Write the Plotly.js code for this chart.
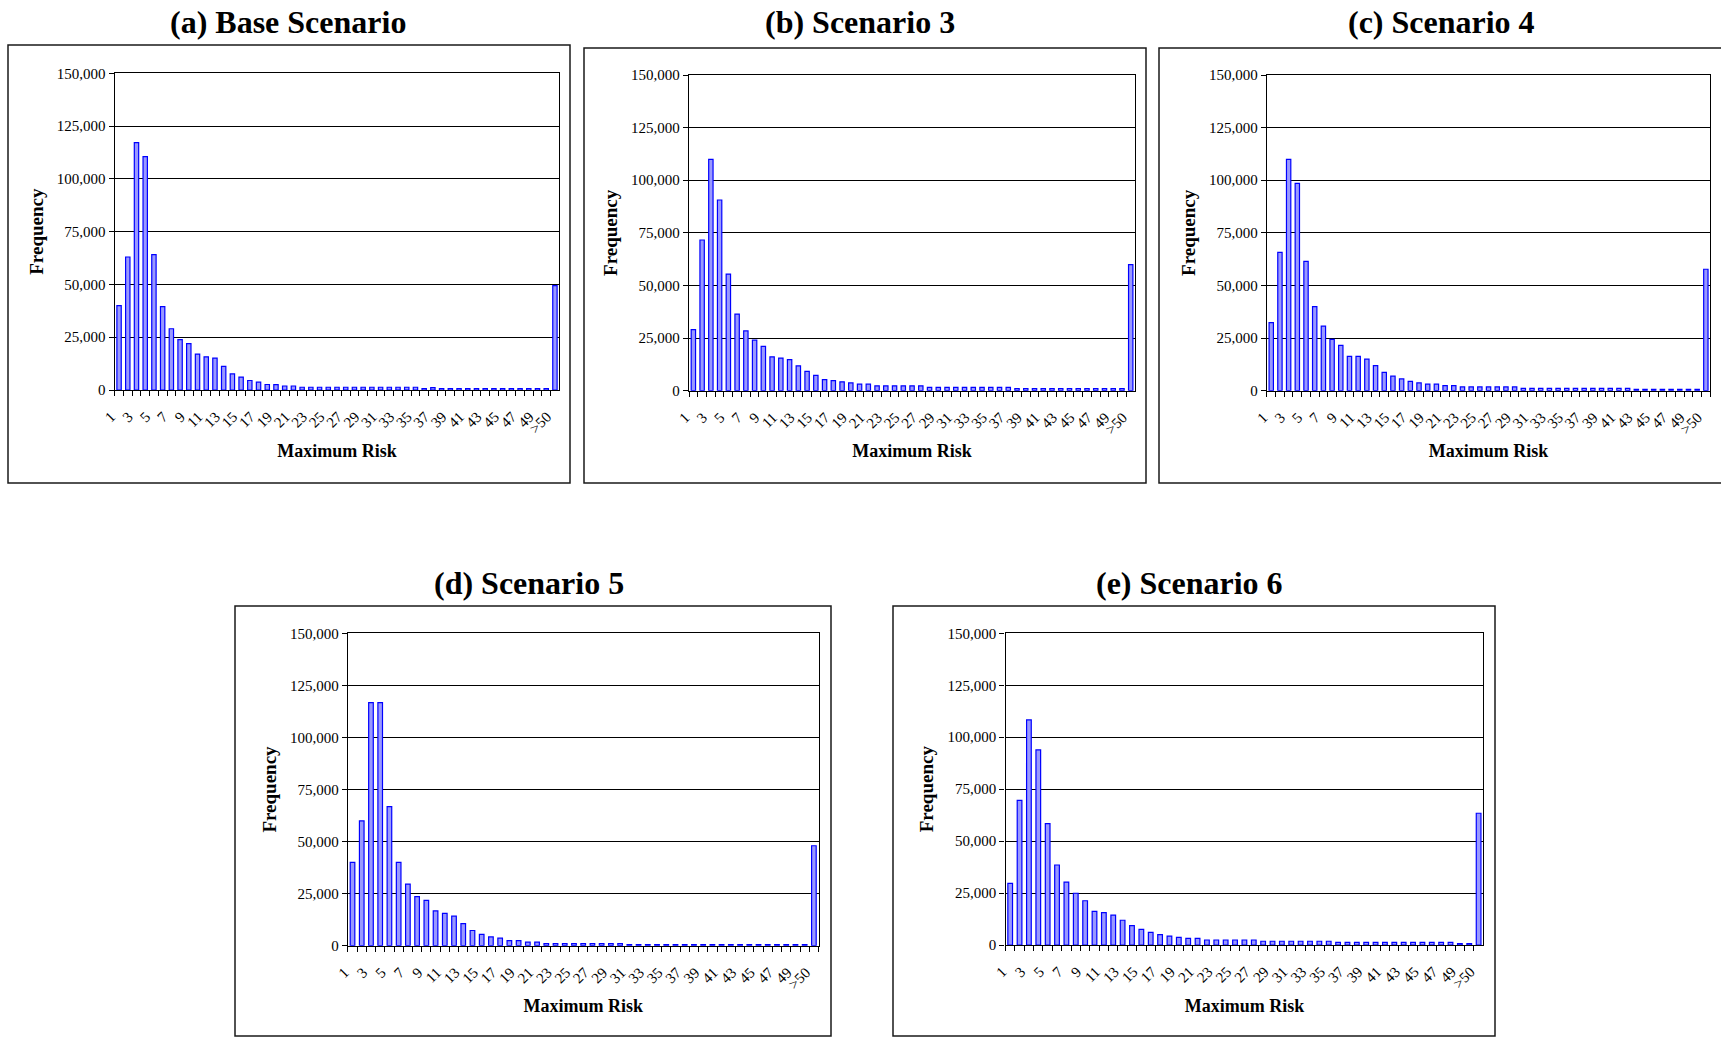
<!DOCTYPE html>
<html>
<head>
<meta charset="utf-8">
<script src="https://cdn.plot.ly/plotly-3.0.1.min.js"></script>
<style>
  html, body { margin: 0; padding: 0; background: #ffffff; }
  #chart { width: 1721px; height: 1037px; }
</style>
</head>
<body>
<div id="chart"></div>
<script>
// ---------------- DATA ----------------
const categories = ['1','2','3','4','5','6','7','8','9','10','11','12','13','14','15','16','17','18','19','20',
  '21','22','23','24','25','26','27','28','29','30','31','32','33','34','35','36','37','38','39','40',
  '41','42','43','44','45','46','47','48','49','50','>50'];

const tickLabels = ['1','','3','','5','','7','','9','','11','','13','','15','','17','','19','',
  '21','','23','','25','','27','','29','','31','','33','','35','','37','','39','',
  '41','','43','','45','','47','','49','','>50'];

const panelTitles = ['(a) Base Scenario', '(b) Scenario 3', '(c) Scenario 4', '(d) Scenario 5', '(e) Scenario 6'];

const baseScenario = [40000, 63000, 117200, 110500, 64100, 39500, 29000, 23900, 22000, 17000,
  15700, 15100, 11200, 7600, 6100, 4500, 3700, 2600, 2500, 1900,
  1900, 1300, 1300, 1300, 1300, 1300, 1300, 1300, 1300, 1300,
  1300, 1300, 1300, 1300, 1300, 700, 1100, 700, 700, 700,
  700, 700, 700, 700, 700, 700, 700, 700, 700, 700, 49400];

const scenario3 = [29000, 71600, 109900, 90600, 55400, 36400, 28400, 24000, 21100, 16100,
  15500, 14800, 11800, 9200, 7300, 5300, 4800, 4200, 3700, 3100,
  3100, 2300, 2300, 2300, 2300, 2300, 2300, 1600, 1600, 1600,
  1600, 1600, 1600, 1600, 1600, 1600, 1600, 1000, 1000, 1000,
  1000, 1000, 1000, 1000, 1000, 1000, 1000, 1000, 1000, 1000, 59900];

const scenario4 = [32300, 65700, 109900, 98500, 61400, 39900, 30700, 24400, 21500, 16300,
  16300, 15000, 11900, 8700, 6900, 5600, 4400, 3700, 3100, 3100,
  2400, 2400, 1800, 1800, 1800, 1800, 1800, 1800, 1800, 1100,
  1100, 1100, 1100, 1100, 1100, 1100, 1100, 1100, 1100, 1100,
  1100, 1100, 600, 600, 600, 600, 600, 600, 600, 600, 57700];

const scenario5 = [40000, 59900, 116700, 116700, 66800, 40000, 29600, 23600, 21800, 16700,
  15500, 14200, 10600, 7300, 5400, 4200, 3600, 2400, 2400, 1700,
  1700, 1000, 1000, 1000, 1000, 1000, 1000, 1000, 1000, 1000,
  500, 500, 500, 500, 500, 500, 500, 500, 500, 500,
  500, 500, 500, 500, 500, 500, 500, 500, 500, 500, 48000];

const scenario6 = [29700, 69600, 108300, 93900, 58400, 38500, 30300, 24900, 21300, 16200,
  15600, 14400, 11900, 9300, 7500, 6100, 5000, 4300, 3700, 3200,
  3200, 2400, 2400, 2400, 2400, 2400, 2400, 1800, 1800, 1800,
  1800, 1800, 1800, 1800, 1800, 1300, 1300, 1300, 1300, 1300,
  1300, 1300, 1300, 1300, 1300, 1300, 1300, 1300, 700, 700, 63400];

const series = [baseScenario, scenario3, scenario4, scenario5, scenario6];

// ---------------- LAYOUT (pixel geometry) ----------------
const W = 1721, H = 1037;
const FONT = 'Liberation Serif, Times New Roman, serif';
// plot areas: [left, right, top, bottom] in px
const plotBoxes = [
  [114.7, 559.3, 73.3, 390.0],
  [689.0, 1135.1, 75.0, 390.7],
  [1266.9, 1710.2, 75.0, 390.7],
  [347.9, 818.5, 633.3, 945.7],
  [1005.5, 1483.3, 633.3, 945.0]
];
// outer frames
const frames = [
  [8, 570, 45, 483],
  [584, 1146, 48, 483],
  [1159, 1740, 48, 483],
  [235, 831, 606, 1036],
  [893, 1495, 606, 1036]
];
// panel title centres
const titlePos = [[288, 22], [860, 22], [1441, 22], [529, 583], [1189, 583]];

const px = x => x / W;
const py = y => 1 - y / H;

const traces = [];
const layout = {
  width: W, height: H,
  margin: {l: 0, r: 0, t: 0, b: 0},
  paper_bgcolor: '#ffffff',
  plot_bgcolor: '#ffffff',
  showlegend: false,
  bargap: 0.5,
  font: {family: FONT, color: '#000000', size: 15},
  shapes: [],
  annotations: []
};

series.forEach((vals, i) => {
  const n = i === 0 ? '' : String(i + 1);
  traces.push({
    type: 'bar',
    x: categories,
    y: vals,
    xaxis: 'x' + n,
    yaxis: 'y' + n,
    marker: {color: 'rgb(153,153,255)', line: {color: 'rgb(0,0,255)', width: 1.2}},
    hoverinfo: 'x+y'
  });
  const b = plotBoxes[i];
  layout['xaxis' + n] = {
    domain: [px(b[0]), px(b[1])],
    anchor: 'y' + n,
    type: 'category',
    tickmode: 'array',
    tickvals: categories,
    ticktext: tickLabels,
    tickson: 'boundaries',
    ticks: 'outside',
    ticklen: 5,
    tickcolor: '#000',
    tickangle: -45,
    ticklabelstandoff: 11,
    ticklabelshift: -8,
    tickfont: {family: FONT, size: 15, color: '#000'},
    showline: true, linecolor: '#000', linewidth: 1.3, mirror: true,
    showgrid: false, zeroline: false, automargin: false,
    title: {text: '<b>Maximum Risk</b>', font: {family: FONT, size: 18, color: '#000'}, standoff: 8},
    fixedrange: true
  };
  layout['yaxis' + n] = {
    domain: [py(b[3]), py(b[2])],
    anchor: 'x' + n,
    range: [0, 150000],
    tick0: 0, dtick: 25000,
    tickformat: ',d',
    ticks: 'outside', ticklen: 5, tickcolor: '#000',
    tickfont: {family: FONT, size: 15, color: '#000'},
    showline: true, linecolor: '#000', linewidth: 1.3, mirror: true,
    showgrid: true, gridcolor: '#000', gridwidth: 1,
    zeroline: false, automargin: false,
    title: {text: '<b>Frequency</b>', font: {family: FONT, size: 19, color: '#000'}, standoff: 8},
    fixedrange: true
  };
  const f = frames[i];
  layout.shapes.push({
    type: 'rect', xref: 'paper', yref: 'paper',
    x0: px(f[0]), x1: px(f[1]), y0: py(f[3]), y1: py(f[2]),
    line: {color: '#1a1a1a', width: 1.5}, fillcolor: 'rgba(0,0,0,0)', layer: 'below'
  });
  const t = titlePos[i];
  layout.annotations.push({
    xref: 'paper', yref: 'paper', x: px(t[0]), y: py(t[1]),
    xanchor: 'center', yanchor: 'middle', showarrow: false,
    text: '<b>' + panelTitles[i] + '</b>',
    font: {family: FONT, size: 32, color: '#000'}
  });
});

Plotly.newPlot('chart', traces, layout, {displayModeBar: false, responsive: false});
</script>
</body>
</html>
